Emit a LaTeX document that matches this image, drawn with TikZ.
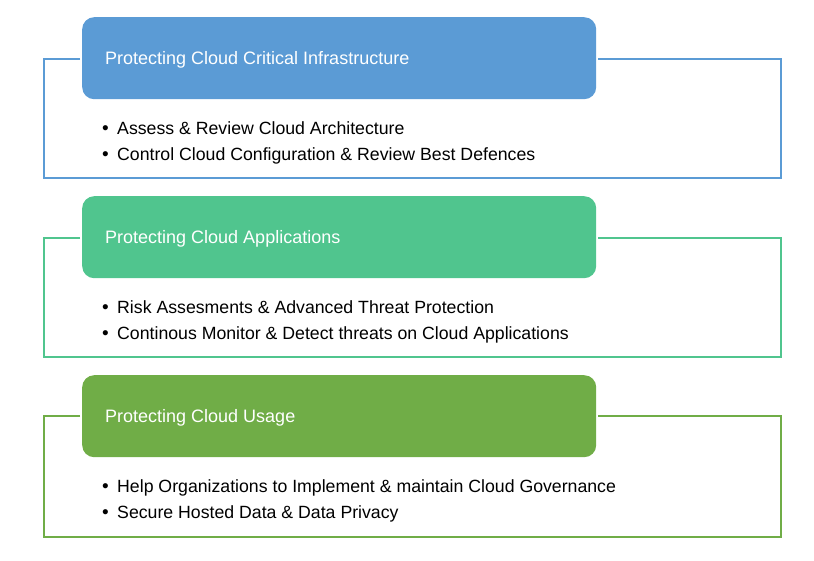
\documentclass[tikz,border=0pt]{standalone}
\usepackage{fontspec}
\setmainfont{Liberation Sans}
\definecolor{cblue}{HTML}{5B9BD5}
\definecolor{cgreen}{HTML}{50C58E}
\definecolor{cdgreen}{HTML}{70AD47}
\begin{document}
\begin{tikzpicture}[x=1pt,y=-1pt,
  header/.style={fill=#1, draw=none, rounded corners=12pt, minimum width=514pt, minimum height=82pt, anchor=north west, inner sep=0pt},
  htext/.style={text=white, font=\fontsize{18}{21}\selectfont, anchor=base west, inner sep=0pt},
  btext/.style={text=black, font=\fontsize{17.7}{21}\selectfont, anchor=base west, inner sep=0pt},
  bdot/.style={text=black, font=\fontsize{19}{21}\selectfont, anchor=base west, inner sep=0pt},
  frame/.style={draw=#1, line width=1.6pt}]
\useasboundingbox (0,0) rectangle (814,560);
% block 1
\node[header=cblue] (h1) at (82,17) {};
\draw[frame=cblue] (80,59) -- (44,59) -- (44,178) -- (781,178) -- (781,59) -- (598,59);
\node[htext] (t1) at (105,64) {Protecting Cloud Critical Infrastructure};
\node[bdot] (d11) at (102,134) {•};
\node[btext] (b11) at (117,134) {Assess \& Review Cloud Architecture};
\node[bdot] (d12) at (102,160) {•};
\node[btext] (b12) at (117,160) {Control Cloud Configuration \& Review Best Defences};
% block 2
\node[header=cgreen] (h2) at (82,196) {};
\draw[frame=cgreen] (80,238) -- (44,238) -- (44,357) -- (781,357) -- (781,238) -- (598,238);
\node[htext] (t2) at (105,243) {Protecting Cloud Applications};
\node[bdot] (d21) at (102,313) {•};
\node[btext] (b21) at (117,313) {Risk Assesments \& Advanced Threat Protection};
\node[bdot] (d22) at (102,339) {•};
\node[btext] (b22) at (117,339) {Continous Monitor \& Detect threats on Cloud Applications};
% block 3
\node[header=cdgreen] (h3) at (82,375) {};
\draw[frame=cdgreen] (80,416) -- (44,416) -- (44,537) -- (781,537) -- (781,416) -- (598,416);
\node[htext] (t3) at (105,422) {Protecting Cloud Usage};
\node[bdot] (d31) at (102,492) {•};
\node[btext] (b31) at (117,492) {Help Organizations to Implement \& maintain Cloud Governance};
\node[bdot] (d32) at (102,518) {•};
\node[btext] (b32) at (117,518) {Secure Hosted Data \& Data Privacy};
\end{tikzpicture}
\end{document}
